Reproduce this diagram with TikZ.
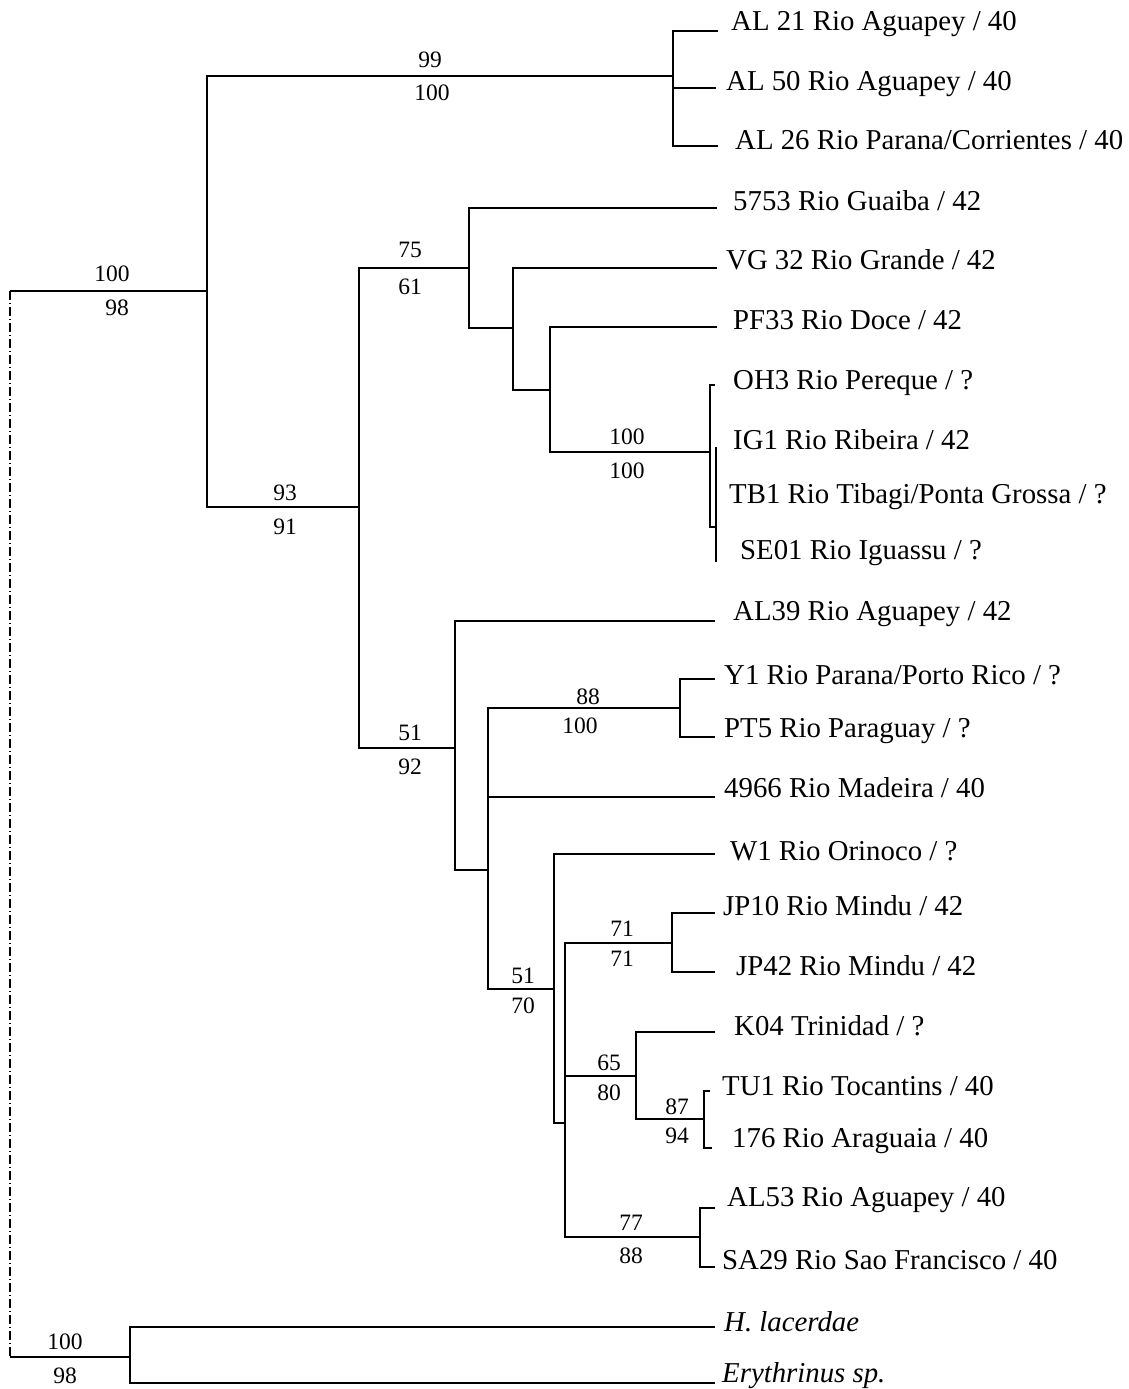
\documentclass[tikz,border=0pt]{standalone}
\usepackage{fontspec}
\setmainfont{Liberation Serif}
\begin{document}
\begin{tikzpicture}[x=1pt,y=-1pt,
  br/.style={line width=1.6pt},
  rootline/.style={line width=1.2pt, dash pattern=on 9pt off 3pt on 1pt off 3pt},
  leaf/.style={anchor=base west, inner sep=0pt, font=\fontsize{28.8}{30}\selectfont},
  sup/.style={inner sep=0pt, font=\fontsize{23.5}{25}\selectfont}]
\useasboundingbox (0,0) rectangle (1129,1389);

% internal nodes (stem points)
\coordinate (R) at (10,291);
\coordinate (R2) at (10,1357);
\coordinate (A) at (207,291);
\coordinate (P) at (673,76);
\coordinate (B) at (359,507);
\coordinate (C) at (469,268);
\coordinate (D) at (513,328);
\coordinate (E) at (550,390);
\coordinate (F) at (710,452);
\coordinate (F2) at (716,527);
\coordinate (G) at (455,748);
\coordinate (H) at (488,870);
\coordinate (I) at (680,708);
\coordinate (J) at (554,989);
\coordinate (K) at (565,1123);
\coordinate (L) at (672,943);
\coordinate (M) at (636,1076);
\coordinate (N) at (704,1119);
\coordinate (O) at (700,1237);
\coordinate (OG) at (130,1357);

% leaf line ends
\coordinate (eAL21) at (718,31);
\coordinate (eAL50) at (716,88);
\coordinate (eAL26) at (718,146);
\coordinate (e5753) at (717,208);
\coordinate (eVG32) at (717,268);
\coordinate (ePF33) at (717,327);
\coordinate (eOH3) at (715,385);
\coordinate (eIG1) at (716,447);
\coordinate (eSE01) at (716,562);
\coordinate (eAL39) at (715,621);
\coordinate (eY1) at (715,679);
\coordinate (ePT5) at (715,737);
\coordinate (e4966) at (715,797);
\coordinate (eW1) at (715,854);
\coordinate (eJP10) at (715,913);
\coordinate (eJP42) at (715,972);
\coordinate (eK04) at (715,1032);
\coordinate (eTU1) at (710,1091);
\coordinate (e176) at (712,1148);
\coordinate (eAL53) at (715,1208);
\coordinate (eSA29) at (715,1267);
\coordinate (eHl) at (715,1327);
\coordinate (eEry) at (715,1383);

% root
\draw[rootline] (R) -- (R2);
\draw[br] (R2) -- (OG);
\draw[br] (R) -- (A);
% branches
\draw[br] (A) |- (P);
\draw[br] (A) |- (B);
\draw[br] (P) |- (eAL21);
\draw[br] (P) |- (eAL50);
\draw[br] (P) |- (eAL26);
\draw[br] (B) |- (C);
\draw[br] (B) |- (G);
\draw[br] (C) |- (e5753);
\draw[br] (C) |- (D);
\draw[br] (D) |- (eVG32);
\draw[br] (D) |- (E);
\draw[br] (E) |- (ePF33);
\draw[br] (E) |- (F);
\draw[br] (F) |- (eOH3);
\draw[br] (F) |- (F2);
\draw[br] (eIG1) -- (eSE01);
\draw[br] (G) |- (eAL39);
\draw[br] (G) |- (H);
\draw[br] (H) |- (I);
\draw[br] (H) |- (e4966);
\draw[br] (H) |- (J);
\draw[br] (I) |- (eY1);
\draw[br] (I) |- (ePT5);
\draw[br] (J) |- (eW1);
\draw[br] (J) |- (K);
\draw[br] (K) |- (L);
\draw[br] (K) |- (M);
\draw[br] (K) |- (O);
\draw[br] (L) |- (eJP10);
\draw[br] (L) |- (eJP42);
\draw[br] (M) |- (eK04);
\draw[br] (M) |- (N);
\draw[br] (N) |- (eTU1);
\draw[br] (N) |- (e176);
\draw[br] (O) |- (eAL53);
\draw[br] (O) |- (eSA29);
\draw[br] (OG) |- (eHl);
\draw[br] (OG) |- (eEry);

% leaf labels
\node[leaf] (tAL21) at (731,31) {AL 21 Rio Aguapey / 40};
\node[leaf] (tAL50) at (726,90) {AL 50 Rio Aguapey / 40};
\node[leaf] (tAL26) at (735,149) {AL 26 Rio Parana/Corrientes / 40};
\node[leaf] (t5753) at (733,210) {5753 Rio Guaiba / 42};
\node[leaf] (tVG32) at (726,269) {VG 32 Rio Grande / 42};
\node[leaf] (tPF33) at (733,329) {PF33 Rio Doce / 42};
\node[leaf] (tOH3) at (733,389) {OH3 Rio Pereque / ?};
\node[leaf] (tIG1) at (733,449) {IG1 Rio Ribeira / 42};
\node[leaf] (tTB1) at (729,503) {TB1 Rio Tibagi/Ponta Grossa / ?};
\node[leaf] (tSE01) at (740,559) {SE01 Rio Iguassu / ?};
\node[leaf] (tAL39) at (733,620) {AL39 Rio Aguapey / 42};
\node[leaf] (tY1) at (724,684) {Y1 Rio Parana/Porto Rico / ?};
\node[leaf] (tPT5) at (724,737) {PT5 Rio Paraguay / ?};
\node[leaf] (t4966) at (724,797) {4966 Rio Madeira / 40};
\node[leaf] (tW1) at (730,860) {W1 Rio Orinoco / ?};
\node[leaf] (tJP10) at (723,915) {JP10 Rio Mindu / 42};
\node[leaf] (tJP42) at (736,975) {JP42 Rio Mindu / 42};
\node[leaf] (tK04) at (734,1035) {K04 Trinidad / ?};
\node[leaf] (tTU1) at (722,1095) {TU1 Rio Tocantins / 40};
\node[leaf] (t176) at (732,1147) {176 Rio Araguaia / 40};
\node[leaf] (tAL53) at (727,1206) {AL53 Rio Aguapey / 40};
\node[leaf] (tSA29) at (722,1269) {SA29 Rio Sao Francisco / 40};
\node[leaf] (tHl) at (724,1331) {\itshape H. lacerdae};
\node[leaf] (tEry) at (722,1382) {\itshape Erythrinus sp.};

% support values
\node[sup] (sA1) at (112,274) {100};
\node[sup] (sA2) at (117,308) {98};
\node[sup] (sP1) at (430,60) {99};
\node[sup] (sP2) at (432,93) {100};
\node[sup] (sB1) at (285,493) {93};
\node[sup] (sB2) at (285,527) {91};
\node[sup] (sC1) at (410,250) {75};
\node[sup] (sC2) at (410,287) {61};
\node[sup] (sF1) at (627,437) {100};
\node[sup] (sF2) at (627,471) {100};
\node[sup] (sG1) at (410,733) {51};
\node[sup] (sG2) at (410,767) {92};
\node[sup] (sI1) at (588,697) {88};
\node[sup] (sI2) at (580,726) {100};
\node[sup] (sJ1) at (523,976) {51};
\node[sup] (sJ2) at (523,1006) {70};
\node[sup] (sL1) at (622,929) {71};
\node[sup] (sL2) at (622,959) {71};
\node[sup] (sM1) at (609,1063) {65};
\node[sup] (sM2) at (609,1093) {80};
\node[sup] (sN1) at (677,1107) {87};
\node[sup] (sN2) at (677,1136) {94};
\node[sup] (sO1) at (631,1223) {77};
\node[sup] (sO2) at (631,1256) {88};
\node[sup] (sOG1) at (65,1342) {100};
\node[sup] (sOG2) at (65,1376) {98};
\end{tikzpicture}
\end{document}
